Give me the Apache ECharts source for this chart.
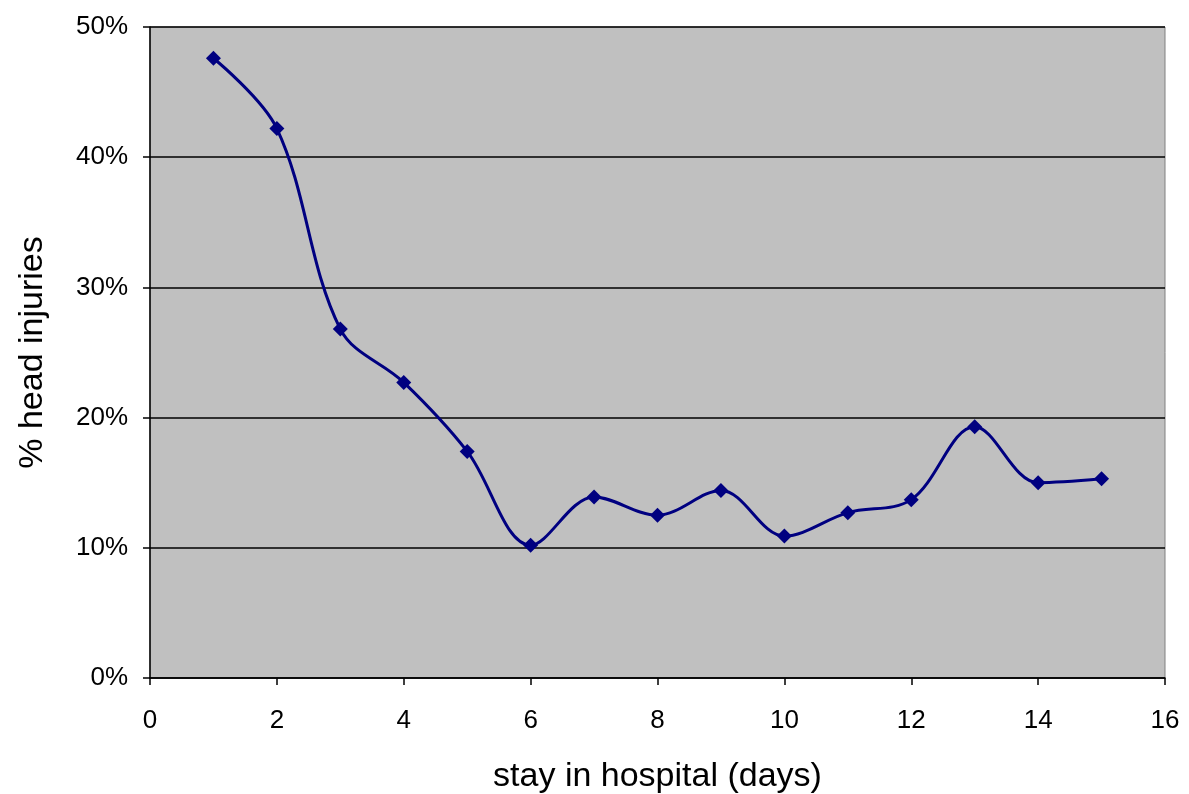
<!DOCTYPE html>
<html><head><meta charset="utf-8">
<script src="https://cdn.jsdelivr.net/npm/echarts@6/dist/echarts.min.js"></script>
<style>html,body{margin:0;padding:0;background:#fff}#c{width:1189px;height:794px}</style>
</head><body><div id="c"></div>
<script>
const days = [1,2,3,4,5,6,7,8,9,10,11,12,13,14,15];
const headInjuryPct = [47.6,42.2,26.8,22.7,17.4,10.2,13.9,12.5,14.4,10.9,12.7,13.7,19.3,15.0,15.3];
const xTicks = {min:0, max:16, interval:2};
const yTicks = {min:0, max:50, interval:10};

const chart = echarts.init(document.getElementById('c'), null, {renderer:'canvas'});
const font = 'Liberation Sans, Arial, sans-serif';
chart.setOption({
  animation:false,
  grid:{left:150,right:24,top:27,bottom:116,containLabel:false,outerBoundsMode:'none',show:true,backgroundColor:'#c0c0c0',borderColor:'#808080',borderWidth:1},
  xAxis:{type:'value',min:xTicks.min,max:xTicks.max,interval:xTicks.interval,
    name:'stay in hospital (days)',nameLocation:'middle',nameGap:82,
    nameTextStyle:{fontFamily:font,fontSize:34,color:'#000'},
    axisLine:{show:true,lineStyle:{color:'#000',width:1.5}},
    axisTick:{show:true,length:7,lineStyle:{color:'#000',width:1.5}},
    axisLabel:{fontFamily:font,fontSize:26,color:'#000',margin:30},
    splitLine:{show:false}},
  yAxis:{type:'value',min:yTicks.min,max:yTicks.max,interval:yTicks.interval,
    name:'% head injuries',nameLocation:'middle',nameGap:100,nameRotate:90,
    nameTextStyle:{fontFamily:font,fontSize:34,color:'#000'},
    axisLine:{show:true,lineStyle:{color:'#000',width:1.5}},
    axisTick:{show:true,length:7,lineStyle:{color:'#000',width:1.5}},
    axisLabel:{fontFamily:font,fontSize:26,color:'#000',margin:22,formatter:'{value}%'},
    splitLine:{show:true,lineStyle:{color:'#000',width:1.5}}},
  series:[{type:'line',data:days.map((d,i)=>[d,headInjuryPct[i]]),smooth:0.35,
    lineStyle:{color:'#000080',width:3},itemStyle:{color:'#000080'},
    symbol:'diamond',symbolSize:15,showSymbol:true}]
});
</script></body></html>
